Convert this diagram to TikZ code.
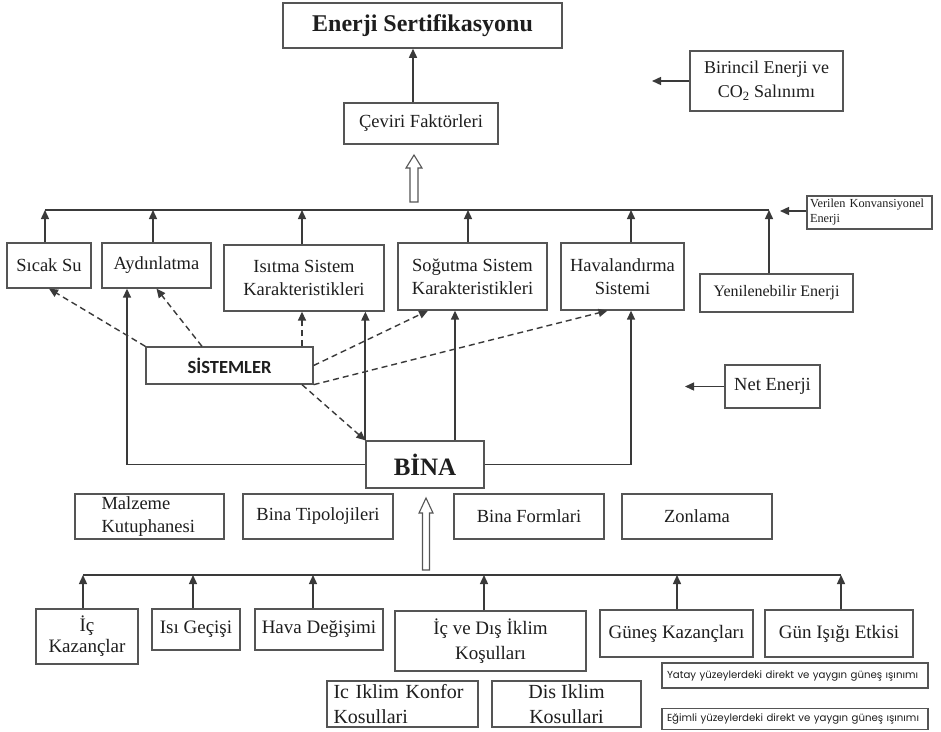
\documentclass[tikz,border=0pt]{standalone}
\usepackage{fontspec}
\setmainfont{Liberation Serif}
\newfontfamily\sysfont{Carlito}
\newfontfamily\geofont{Poppins}
\usetikzlibrary{arrows.meta}
\definecolor{lncol}{HTML}{3A3A3A}
\definecolor{bdcol}{HTML}{555555}
\definecolor{txcol}{HTML}{1E1E1E}
\begin{document}
\begin{tikzpicture}[x=1pt,y=-1pt,
  box/.style={draw=bdcol, line width=1.3pt, inner sep=2pt, text=txcol, align=center,
    font=\fontsize{18.5}{22}\selectfont},
  conn/.style={draw=lncol, line width=1.4pt},
  arr/.style={conn, -{Triangle[length=9pt,width=8pt]}},
  darr/.style={arr, dash pattern=on 6pt off 4pt},
  hollow/.style={draw=bdcol, line width=1.1pt, fill=white}]
\useasboundingbox (0,0) rectangle (941,731);
\fill[white] (0,0) rectangle (941,731);

% top
\node[box, line width=1.5pt, minimum width=279pt, minimum height=45pt,
  font=\fontsize{24}{28}\selectfont\bfseries] (enerji) at (422.5,25.5) {Enerji Sertifikasyonu};
\node[box, minimum width=154pt, minimum height=41pt] (ceviri) at (421,123.5) {Çeviri Faktörleri};
\node[box, minimum width=153pt, minimum height=60pt, font=\fontsize{18}{24}\selectfont] (birincil) at (766.5,81) {Birincil Enerji ve\\CO\textsubscript{2} Salınımı};

% systems row
\node[box, minimum width=84pt, minimum height=45pt] (sicak) at (49,265.5) {Sıcak Su};
\node[box, minimum width=109pt, minimum height=45pt] (aydin) at (156.5,265.5) {Aydınlatma};
\node[box, minimum width=160pt, minimum height=66pt, font=\fontsize{18.5}{23}\selectfont] (isitma) at (304,278) {Isıtma Sistem\\Karakteristikleri};
\node[box, minimum width=149pt, minimum height=67pt, font=\fontsize{18.5}{23}\selectfont] (sogutma) at (472.5,276.5) {Soğutma Sistem\\Karakteristikleri};
\node[box, minimum width=123pt, minimum height=67pt, font=\fontsize{18.5}{23}\selectfont] (havalan) at (622.5,276.5) {Havalandırma\\Sistemi};
\node[box, minimum width=153pt, minimum height=38pt, font=\fontsize{16}{19}\selectfont] (yenilen) at (776.5,293) {Yenilenebilir Enerji};
\node[box, minimum width=125pt, minimum height=33pt, align=left, text width=119pt,
  font=\fontsize{12.3}{15}\selectfont] (verilen) at (869.5,212.5) {Verilen Konvansiyonel\\Enerji};

% middle
\node[box, minimum width=167pt, minimum height=37pt, font=\sysfont\fontsize{18.5}{21}\selectfont\bfseries] (sistemler) at (229.5,365.5) {SİSTEMLER};
\node[box, minimum width=118pt, minimum height=47pt, font=\fontsize{25}{28}\selectfont\bfseries] (bina) at (425,464.5) {BİNA};
\node[box, minimum width=95pt, minimum height=43pt] (net) at (772.5,386.5) {Net Enerji};

% building data row
\node[box, minimum width=149pt, minimum height=45pt, align=left, text width=96pt,
  font=\fontsize{18.5}{23}\selectfont] (malzeme) at (149.5,516.5) {Malzeme\\Kutuphanesi};
\node[box, minimum width=150pt, minimum height=45pt] (tipoloji) at (318,516.5) {Bina Tipolojileri};
\node[box, minimum width=150pt, minimum height=45pt] (formlari) at (529,516.5) {Bina Formlari};
\node[box, minimum width=150pt, minimum height=45pt] (zonlama) at (697,516.5) {Zonlama};

% bottom row
\node[box, minimum width=102pt, minimum height=55pt, font=\fontsize{19}{21}\selectfont] (ickazanc) at (87,636.5) {İç\\Kazançlar};
\node[box, minimum width=88pt, minimum height=41pt, font=\fontsize{19}{22}\selectfont] (isigecis) at (196,629.5) {Isı Geçişi};
\node[box, minimum width=128pt, minimum height=41pt, font=\fontsize{19}{22}\selectfont] (havadeg) at (319,629.5) {Hava Değişimi};
\node[box, minimum width=191pt, minimum height=60pt, font=\fontsize{19}{25}\selectfont] (icdis) at (490.5,641) {İç ve Dış İklim\\Koşulları};
\node[box, minimum width=153pt, minimum height=47pt, font=\fontsize{19}{22}\selectfont] (gunes) at (676.5,633.5) {Güneş Kazançları};
\node[box, minimum width=148pt, minimum height=47pt, font=\fontsize{19}{22}\selectfont] (gunisigi) at (839,633.5) {Gün Işığı Etkisi};

\node[box, minimum width=266pt, minimum height=25pt, align=left, text width=256pt,
  font=\geofont\fontsize{10.2}{12}\selectfont] (yatay) at (795,675.5) {Yatay yüzeylerdeki direkt ve yaygın güneş ışınımı};
\node[box, minimum width=266pt, minimum height=21pt, align=left, text width=256pt,
  font=\geofont\fontsize{10.2}{12}\selectfont] (egimli) at (795,719) {Eğimli yüzeylerdeki direkt ve yaygın güneş ışınımı};

\node[box, minimum width=151pt, minimum height=46pt, align=left, text width=138pt,
  font=\fontsize{20}{25}\selectfont] (iciklim) at (402.5,704) {Ic Iklim Konfor\\Kosullari};
\node[box, minimum width=149pt, minimum height=46pt,
  font=\fontsize{20}{25}\selectfont] (disiklim) at (566.5,704) {Dis Iklim\\Kosullari};

% hollow arrows
\draw[hollow] (410,202) -- (410,168) -- (406,168) -- (414,155) -- (422,168) -- (418,168) -- (418,202) -- cycle;
\draw[hollow] (422.5,570) -- (422.5,513) -- (419,513) -- (426,498) -- (433,513) -- (429.5,513) -- (429.5,570) -- cycle;

% top connectors
\draw[arr] ([xshift=-8pt]ceviri.north) -- ([xshift=-8pt]ceviri.north |- enerji.south);
\coordinate (bend) at (652,81);
\draw[arr] (birincil.west) -- (bend);

\coordinate (barL) at (45,210);
\coordinate (barR) at (769,210);
\draw[conn] (barL) -- (barR);
\draw[arr] ([xshift=-4pt]sicak.north) -- ([xshift=-4pt]sicak.north |- barL);
\draw[arr] ([xshift=-3.5pt]aydin.north) -- ([xshift=-3.5pt]aydin.north |- barL);
\draw[arr] ([xshift=-2pt]isitma.north) -- ([xshift=-2pt]isitma.north |- barL);
\draw[arr] ([xshift=-4.5pt]sogutma.north) -- ([xshift=-4.5pt]sogutma.north |- barL);
\draw[arr] ([xshift=8.5pt]havalan.north) -- ([xshift=8.5pt]havalan.north |- barL);
\draw[arr] ([xshift=-7.5pt]yenilen.north) -- ([xshift=-7.5pt]yenilen.north |- barL);
\coordinate (vend) at (780,211);
\draw[arr] (verilen.west |- vend) -- (vend);

% building connectors
\draw[arr] (bina.west) -| ([xshift=-29.5pt]aydin.south);
\draw[arr] (bina.east) -| ([xshift=8.5pt]havalan.south);
\draw[arr, line width=1.8pt] (bina.north west) -- (bina.north west |- isitma.south);
\draw[arr] ([xshift=-17.5pt]sogutma.south |- bina.north) -- ([xshift=-17.5pt]sogutma.south);

% dashed system arrows
\draw[darr] (sistemler.north west) -- (sicak.south);
\draw[darr] ([xshift=-27.5pt]sistemler.north) -- (aydin.south);
\draw[darr] ([xshift=72.5pt]sistemler.north) -- ([xshift=-2pt]isitma.south);
\draw[darr] (sistemler.east) -- ([xshift=-44.5pt]sogutma.south);
\draw[darr] (sistemler.south east) -- ([xshift=-15pt]havalan.south);
\draw[darr] ([xshift=72.5pt]sistemler.south) -- (bina.north west);

\coordinate (nend) at (685,386.5);
\draw[arr] (net.west) -- (nend);

% bottom bar
\coordinate (bbL) at (83,575);
\coordinate (bbR) at (841,575);
\draw[conn] (bbL) -- (bbR);
\draw[arr] ([xshift=-4pt]ickazanc.north) -- ([xshift=-4pt]ickazanc.north |- bbL);
\draw[arr] ([xshift=-3pt]isigecis.north) -- ([xshift=-3pt]isigecis.north |- bbL);
\draw[arr] ([xshift=-6pt]havadeg.north) -- ([xshift=-6pt]havadeg.north |- bbL);
\draw[arr] ([xshift=-6.5pt]icdis.north) -- ([xshift=-6.5pt]icdis.north |- bbL);
\draw[arr] ([xshift=0.5pt]gunes.north) -- ([xshift=0.5pt]gunes.north |- bbL);
\draw[arr] ([xshift=2pt]gunisigi.north) -- ([xshift=2pt]gunisigi.north |- bbL);
\end{tikzpicture}
\end{document}
